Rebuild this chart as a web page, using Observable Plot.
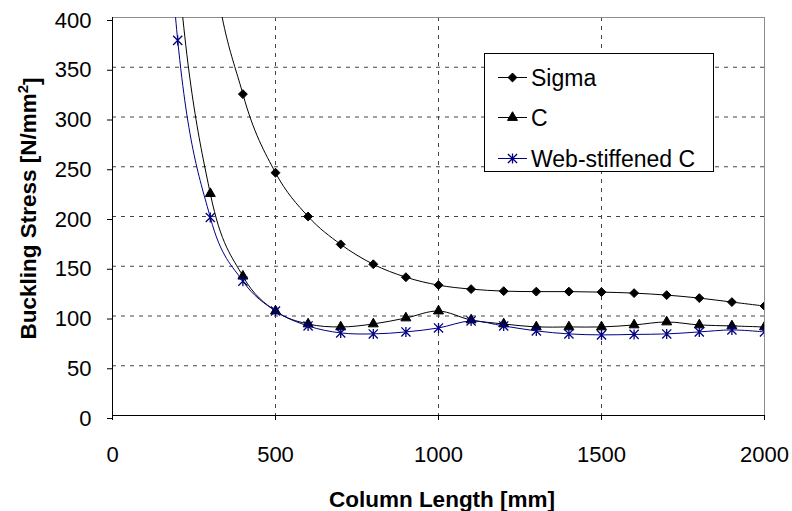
<!DOCTYPE html>
<html><head><meta charset="utf-8">
<script src="https://cdn.jsdelivr.net/npm/d3@7"></script>
<script src="https://cdn.jsdelivr.net/npm/@observablehq/plot@0.6"></script>
<style>
body{margin:0;background:#fff}
#chart{position:relative;width:792px;height:511px}
</style>
</head><body><div id="chart"></div>
<script>
// ---- data ----
const lengths = [100, 200, 300, 400, 500, 600, 700, 800, 900, 1000, 1100, 1200, 1300, 1400, 1500, 1600, 1700, 1800, 1900, 2000];
const sigma = [null, 900, 480, 323, 244, 200, 172, 152, 139, 131, 127, 125, 124.5, 124.5, 124, 123, 121, 118, 114, 110];
const cSection = [1000, 455, 223, 140, 105, 92, 89, 92, 98, 105, 96, 92, 89, 89, 89, 91, 94, 91, 90, 89];
const webStiffened = [850, 377, 199, 135, 105, 90, 83, 82, 84, 88, 95, 90, 85, 82, 81, 81.5, 82, 84, 86, 84];
const seriesNames = ["Sigma", "C", "Web-stiffened C"];
const xTicks = [0, 500, 1000, 1500, 2000];
const yTicks = [0, 50, 100, 150, 200, 250, 300, 350, 400];
const xTitle = "Column Length [mm]";
const yTitle = "Buckling Stress [N/mm2]";

// ---- styling ----
const seriesColors = ["#000000", "#000000", "#000080"];
const font = "'Liberation Sans', Arial, Helvetica, sans-serif";
const starSymbol = {
  draw(ctx, size) {
    const r = Math.sqrt(size) * 0.6;
    ctx.moveTo(-r, -r); ctx.lineTo(r, r);
    ctx.moveTo(r, -r); ctx.lineTo(-r, r);
    ctx.moveTo(0, -r * 1.1); ctx.lineTo(0, r * 1.1);
  }
};
const symbols = ["diamond2", "triangle", starSymbol];
const d3Symbols = [d3.symbolDiamond2, d3.symbolTriangle, starSymbol];
const symbolR = [4, 3.7, 4.3];

const seriesValues = [sigma, cSection, webStiffened];
const rows = [];
seriesNames.forEach((name, i) => {
  lengths.forEach((L, j) => {
    const v = seriesValues[i][j];
    if (v != null) rows.push({series: name, length: L, stress: v});
  });
});

const marks = [
  Plot.ruleY(yTicks.filter(d => d > 0 && d < 400), {stroke: "#444", strokeDasharray: "4,5"}),
  Plot.ruleX(xTicks.filter(d => d > 0 && d < 2000), {stroke: "#444", strokeDasharray: "4,5"}),
  Plot.frame({stroke: "#8c8c8c"})
];
seriesNames.forEach((name, i) => {
  const data = rows.filter(r => r.series === name);
  marks.push(Plot.line(data, {x: "length", y: "stress", curve: "cardinal", stroke: seriesColors[i], strokeWidth: 1, clip: true}));
  marks.push(Plot.dot(data, {
    x: "length", y: "stress", symbol: symbols[i], r: symbolR[i],
    fill: i === 2 ? "none" : seriesColors[i], stroke: seriesColors[i], strokeWidth: i === 2 ? 1.3 : 1, clip: true
  }));
});
marks.push(
  Plot.ruleY([0], {stroke: "black"}),
  Plot.ruleX([0], {stroke: "black"}),
  Plot.axisY({ticks: yTicks, tickSize: 5, tickPadding: 16, dy: 3, label: null, tickFormat: d3.format("d"), fontSize: 22, color: "black"}),
  Plot.axisX({ticks: xTicks, tickSize: 5, tickPadding: 26, label: null, tickFormat: d3.format("d"), fontSize: 22, color: "black"}),
  Plot.text([xTitle], {frameAnchor: "bottom", textAnchor: "middle", lineAnchor: "middle", dx: 3.5, dy: 84.5, fontWeight: "bold", fontSize: 22.5, fill: "black"}),
  Plot.text([yTitle], {frameAnchor: "left", textAnchor: "middle", lineAnchor: "middle", rotate: -90, dx: -84, dy: -8, fontWeight: "bold", fontSize: 22.5, fill: "black"})
);

const svg = Plot.plot({
  width: 792, height: 511,
  marginLeft: 112, marginRight: 28, marginTop: 17, marginBottom: 96,
  x: {domain: [0, 2000]},
  y: {domain: [0, 400]},
  style: {fontFamily: font, fontSize: "22px", background: "white", color: "black", overflow: "visible"},
  marks
});
document.getElementById("chart").appendChild(svg);

// superscript in y title
d3.select(svg).selectAll("text").filter(function() { return this.textContent === yTitle; }).each(function() {
  const t = d3.select(this);
  t.text(null);
  t.append("tspan").text("Buckling Stress [N/mm");
  t.append("tspan").attr("dy", "-0.5em").attr("font-size", 15).text("2");
  t.append("tspan").attr("dy", "0.5em").text("]");
});

// legend
const lg = d3.select(svg).append("g").attr("font-family", font).attr("font-size", 23).attr("text-anchor", "start");
lg.append("rect").attr("x", 484.5).attr("y", 53.5).attr("width", 229).attr("height", 118)
  .attr("fill", "white").attr("stroke", "black").attr("stroke-width", 1);
const legendY = [77.5, 117.5, 158.5];
seriesNames.forEach((name, i) => {
  const y = legendY[i];
  lg.append("line").attr("x1", 498).attr("x2", 527).attr("y1", y).attr("y2", y)
    .attr("stroke", seriesColors[i]).attr("stroke-width", 1);
  const size = Math.PI * symbolR[i] * symbolR[i];
  lg.append("path").attr("transform", `translate(512.5,${y})`)
    .attr("d", d3.symbol(d3Symbols[i], size)())
    .attr("fill", i === 2 ? "none" : seriesColors[i]).attr("stroke", seriesColors[i])
    .attr("stroke-width", i === 2 ? 1.3 : 1);
  lg.append("text").attr("x", 531).attr("y", y).attr("dy", "0.36em").attr("fill", "black").text(name);
});
</script>
</body></html>
